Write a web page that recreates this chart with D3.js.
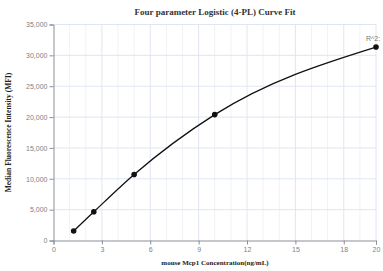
<!DOCTYPE html>
<html>
<head>
<meta charset="utf-8">
<script src="https://cdn.jsdelivr.net/npm/d3@7"></script>
<style>
body{margin:0;background:#fff;}
svg{display:block;}
</style>
</head>
<body>
<svg id="chart" width="383" height="271"></svg>
<script>
// standard points (concentration, MFI)
var concentration = [1.25, 2.5, 5, 10, 20];
var mfi = [1550, 4650, 10700, 20400, 31350];
var xTicks = [0, 3, 6, 9, 12, 15, 18, 20];
var yTicks = [0, 5000, 10000, 15000, 20000, 25000, 30000, 35000];
var titleText = "Four parameter Logistic (4-PL) Curve Fit";
var xTitle = "mouse Mcp1 Concentration(ng/mL)";
var yTitle = "Median Fluorescence Intensity (MFI)";

var svg = d3.select("#chart");
var mLeft = 53.5, mRight = 376, mTop = 24.5, mBottom = 240.5;

var x = d3.scaleLinear().domain([0, 20]).range([mLeft, mRight]);
var y = d3.scaleLinear().domain([0, 35000]).range([mBottom, mTop]);

// vertical grid, every 1 unit (minor) and at ticks (major)
svg.append("g").selectAll("line")
  .data(d3.range(1, 21))
  .enter().append("line")
  .attr("x1", function(d){ return x(d); })
  .attr("x2", function(d){ return x(d); })
  .attr("y1", mTop).attr("y2", mBottom)
  .attr("stroke", function(d){ return xTicks.indexOf(d) >= 0 ? "#e0e6f1" : "#f0f2f7"; })
  .attr("stroke-width", 1);

// horizontal grid
svg.append("g").selectAll("line")
  .data(yTicks.slice(1))
  .enter().append("line")
  .attr("x1", mLeft).attr("x2", mRight)
  .attr("y1", function(d){ return y(d); })
  .attr("y2", function(d){ return y(d); })
  .attr("stroke", "#e0e6f1");

// axes
var xAxis = svg.append("g")
  .attr("transform", "translate(0," + mBottom + ")")
  .call(d3.axisBottom(x).tickValues(xTicks).tickSize(4).tickPadding(3));
var yAxis = svg.append("g")
  .attr("transform", "translate(" + mLeft + ",0)")
  .call(d3.axisLeft(y).tickValues(yTicks).tickSize(4).tickPadding(2).tickFormat(d3.format(",")));

[xAxis, yAxis].forEach(function(a){
  a.select(".domain").attr("stroke", "#8a8f99");
  a.selectAll(".tick line").attr("stroke", "#8a8f99");
  a.selectAll("text")
    .attr("fill", "#7a7f88")
    .style("font-family", "'Liberation Sans', Arial, sans-serif")
    .style("font-size", "7px");
});

// fitted curve
var pts = concentration.map(function(c, i){ return [c, mfi[i]]; });
var line = d3.line()
  .x(function(d){ return x(d[0]); })
  .y(function(d){ return y(d[1]); })
  .curve(d3.curveMonotoneX);

svg.append("path")
  .datum(pts)
  .attr("d", line)
  .attr("fill", "none")
  .attr("stroke", "#111")
  .attr("stroke-width", 1.3);

svg.append("g").selectAll("circle")
  .data(pts)
  .enter().append("circle")
  .attr("cx", function(d){ return x(d[0]); })
  .attr("cy", function(d){ return y(d[1]); })
  .attr("r", 2.8)
  .attr("fill", "#111");

// R^2 label on last point
var last = pts[pts.length - 1];
svg.append("text")
  .attr("x", x(last[0]) - 3)
  .attr("y", y(last[1]) - 6)
  .attr("text-anchor", "middle")
  .attr("fill", "#777")
  .style("font-family", "'Liberation Sans', Arial, sans-serif")
  .style("font-size", "7px")
  .text("R^2:");

// titles
svg.append("text")
  .attr("x", 215).attr("y", 15)
  .attr("text-anchor", "middle")
  .style("font-family", "'Liberation Serif', 'Times New Roman', serif")
  .style("font-weight", "bold")
  .style("font-size", "9px")
  .attr("fill", "#333")
  .text(titleText);

svg.append("text")
  .attr("x", 215).attr("y", 265)
  .attr("text-anchor", "middle")
  .style("font-family", "'Liberation Serif', 'Times New Roman', serif")
  .style("font-weight", "bold")
  .style("font-size", "7px")
  .attr("fill", "#222")
  .text(xTitle);

svg.append("text")
  .attr("transform", "translate(11," + ((mTop + mBottom) / 2) + ") rotate(-90)")
  .attr("text-anchor", "middle")
  .style("font-family", "'Liberation Serif', 'Times New Roman', serif")
  .style("font-weight", "bold")
  .style("font-size", "7.5px")
  .attr("fill", "#222")
  .text(yTitle);
</script>
</body>
</html>
